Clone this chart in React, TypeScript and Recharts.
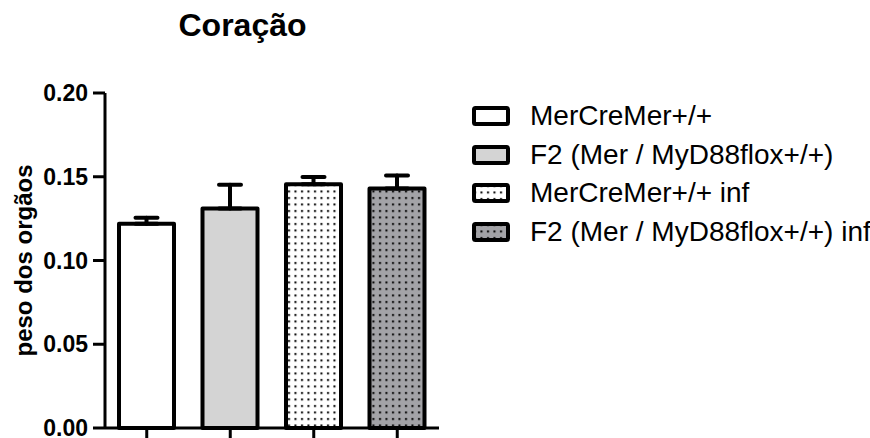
import { Bar, BarChart, Cell, ErrorBar, Legend, XAxis, YAxis } from "recharts";

const groups = [
  "MerCreMer+/+",
  "F2 (Mer / MyD88flox+/+)",
  "MerCreMer+/+ inf",
  "F2 (Mer / MyD88flox+/+) inf",
];
const means = [0.122, 0.131, 0.1455, 0.143];
const sems = [0.0035, 0.0142, 0.0043, 0.0078];
const yTicks = [0, 0.05, 0.1, 0.15, 0.2];

const title = "Coração";
const yLabel = "peso dos orgãos";

// one fill per group: plain white, light grey, dotted white, dotted grey
const fills = ["#ffffff", "#d4d4d4", "url(#dotsWhite)", "url(#dotsGrey)"];

const FONT = '"Liberation Sans", Arial, Helvetica, sans-serif';

const data = groups.map((name, i) => ({
  name,
  mean: means[i],
  err: [0, sems[i]],
}));

function Patterns() {
  return (
    <svg width={0} height={0} style={{ position: "absolute" }}>
      <defs>
        <pattern id="dotsWhite" width={6.5} height={6.5} patternUnits="userSpaceOnUse">
          <rect width={6.5} height={6.5} fill="#ffffff" />
          <rect x={2} y={2} width={2} height={2} fill="#000" />
        </pattern>
        <pattern id="dotsGrey" width={6.5} height={6.5} patternUnits="userSpaceOnUse">
          <rect width={6.5} height={6.5} fill="#a3a3a7" />
          <rect x={2} y={2} width={2} height={2} fill="#000" />
        </pattern>
      </defs>
    </svg>
  );
}

function GroupLegend() {
  return (
    <div style={{ fontFamily: FONT }}>
      {groups.map((g, i) => (
        <div key={g} style={{ display: "flex", alignItems: "center", height: 38.5 }}>
          <svg width={38} height={20} style={{ flex: "none" }}>
            <rect
              x={2}
              y={2}
              width={34}
              height={16}
              rx={1.5}
              fill={fills[i]}
              stroke="#000"
              strokeWidth={4}
            />
          </svg>
          <span
            style={{
              marginLeft: 20,
              fontSize: 28,
              lineHeight: "28px",
              fontWeight: 400,
              color: "#000",
              whiteSpace: "nowrap",
            }}
          >
            {g}
          </span>
        </div>
      ))}
    </div>
  );
}

export default function App() {
  return (
    <div
      style={{
        position: "absolute",
        left: 0,
        top: 0,
        width: 870,
        height: 438,
        background: "#fff",
        fontFamily: FONT,
      }}
    >
      <Patterns />
      <div
        style={{
          position: "absolute",
          left: 0,
          top: 9,
          width: 485,
          textAlign: "center",
          fontSize: 32,
          lineHeight: "32px",
          fontWeight: "bold",
          color: "#000",
        }}
      >
        {title}
      </div>
      <BarChart
        width={870}
        height={438}
        data={data}
        margin={{ top: 93, right: 431, bottom: 0, left: 0 }}
      >
        <XAxis
          dataKey="name"
          height={10}
          tickFormatter={() => ""}
          axisLine={{ stroke: "#000", strokeWidth: 3 }}
          tickLine={{ stroke: "#000", strokeWidth: 3 }}
          tickSize={12}
        />
        <YAxis
          width={105}
          domain={[0, 0.2]}
          ticks={yTicks}
          interval={0}
          tickFormatter={(v: number) => v.toFixed(2)}
          axisLine={{ stroke: "#000", strokeWidth: 3 }}
          tickLine={{ stroke: "#000", strokeWidth: 3 }}
          tickSize={12}
          tickMargin={5}
          tick={{ fill: "#000", fontSize: 23, fontWeight: "bold", fontFamily: FONT }}
          label={{
            value: yLabel,
            angle: -90,
            position: "insideLeft",
            offset: 23.5,
            fill: "#000",
            style: { textAnchor: "middle", fontSize: 24, fontWeight: "bold", fontFamily: FONT },
          }}
        />
        <Legend
          layout="vertical"
          align="center"
          verticalAlign="middle"
          content={() => <GroupLegend />}
          wrapperStyle={{ left: 472, top: 97, width: 398 }}
        />
        <Bar
          dataKey="mean"
          barSize={55}
          stroke="#000"
          strokeWidth={4}
          strokeLinejoin="round"
          isAnimationActive={false}
        >
          {data.map((d, i) => (
            <Cell key={d.name} fill={fills[i]} />
          ))}
          <ErrorBar
            dataKey="err"
            direction="y"
            width={11}
            stroke="#000"
            strokeWidth={4}
            strokeLinecap="round"
            isAnimationActive={false}
          />
        </Bar>
      </BarChart>
    </div>
  );
}
